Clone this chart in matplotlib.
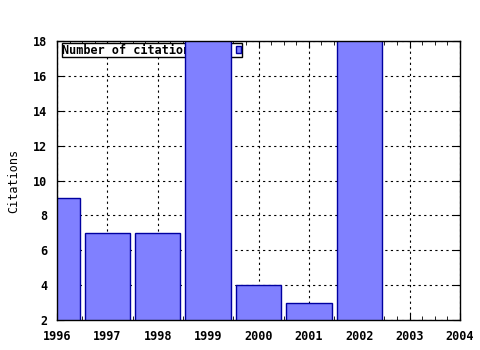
import matplotlib
matplotlib.use("Agg")
import matplotlib.pyplot as plt
from matplotlib.ticker import MultipleLocator

years = [1996, 1997, 1998, 1999, 2000, 2001, 2002, 2003]
citations = [9, 7, 7, 20, 4, 3, 21, 0]

plt.rcParams['font.family'] = 'DejaVu Sans Mono'
plt.rcParams['font.weight'] = 'bold'
plt.rcParams['font.size'] = 8.5

fig = plt.figure(figsize=(4.8, 3.5), dpi=100)
ax = fig.add_axes([57 / 480, 1 - 320 / 350, 403 / 480, 279 / 350])

ax.bar(years, citations, width=0.9, color='#8080ff', edgecolor='#0000a0',
       linewidth=1, zorder=3, label='Number of citations')

ax.set_xlim(1996, 2004)
ax.set_ylim(2, 18)
ax.xaxis.set_major_locator(MultipleLocator(1))
ax.xaxis.set_minor_locator(MultipleLocator(0.25))
ax.yaxis.set_major_locator(MultipleLocator(2))
ax.tick_params(which='both', direction='in', top=True, right=True, color='black')
ax.tick_params(which='major', length=5)
ax.tick_params(which='minor', length=3)
ax.tick_params(axis='x', pad=7.5)
ax.tick_params(axis='y', pad=7)
ax.grid(True, which='major', color='black', linestyle=(0, (2, 3)), linewidth=0.8, zorder=0)
ax.set_axisbelow(True)
for s in ax.spines.values():
    s.set_linewidth(1)
    s.set_zorder(5)

ax.set_ylabel('Citations', labelpad=9)

leg = ax.legend(loc='upper left', bbox_to_anchor=(0.012, 0.993), markerfirst=False,
                fancybox=False, framealpha=1, edgecolor='black', handlelength=0.5,
                handleheight=0.5, borderpad=0.05, handletextpad=3.2, borderaxespad=0)
leg.get_frame().set_linewidth(1)
leg.set_zorder(1)

plt.savefig('out.png', dpi=100)
